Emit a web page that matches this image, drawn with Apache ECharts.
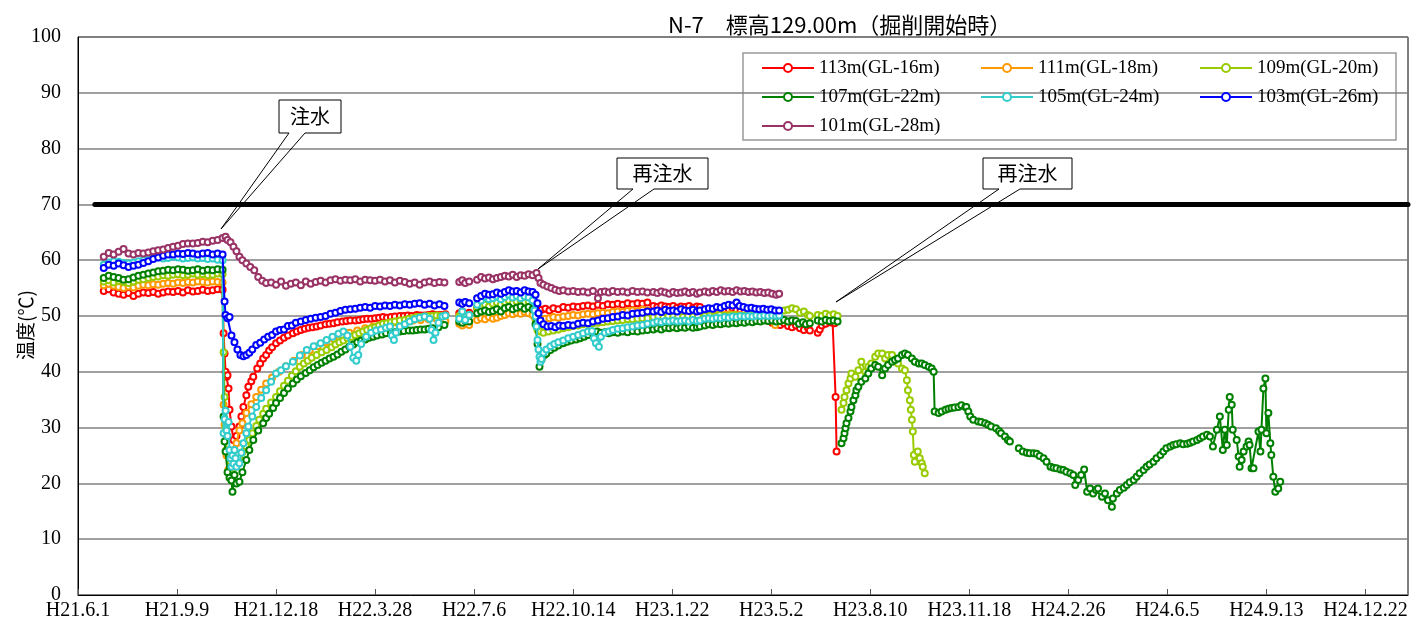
<!DOCTYPE html>
<html>
<head>
<meta charset="utf-8">
<script src="https://cdn.jsdelivr.net/npm/echarts@6.0.0/dist/echarts.min.js"></script>
<style>
  html, body { margin: 0; padding: 0; background: #fff; }
  #chart { width: 1412px; height: 634px; }
</style>
</head>
<body>
<div id="chart"></div>
<script>
// x = days since H21.6.1 (tick every 100 days)
const tickLabels = ['H21.6.1', 'H21.9.9', 'H21.12.18', 'H22.3.28', 'H22.7.6', 'H22.10.14', 'H23.1.22',
  'H23.5.2', 'H23.8.10', 'H23.11.18', 'H24.2.26', 'H24.6.5', 'H24.9.13', 'H24.12.22']
const names = ['113m(GL-16m)', '111m(GL-18m)', '109m(GL-20m)', '107m(GL-22m)', '105m(GL-24m)', '103m(GL-26m)', '101m(GL-28m)']
const colors = ['#ff0000', '#ff9900', '#99cc00', '#008000', '#33cccc', '#0000ff', '#993366']
const limitLine = [[17, 70], [1343, 70]]

const s113 = [[26,54.5],[31,54.8],[36,54.2],[41,54.0],[46,53.8],[51,54.1],[56,53.6],[61,54.0],[66,54.2],[71,54.1],[76,54.3],[81,54.0],[86,54.2],[91,54.4],[96,54.3],[101,54.5],[106,54.2],[111,54.6],[116,54.4],[121,54.5],[126,54.7],[131,54.5],[136,54.6],[141,54.8],[146,54.7],
  [147,46.9],[148,43.3],[149,40.0],[150,39.1],[151,39.4],[152,37.0],[153,33.2],[155,30.2],[157,27.8],[160,28.5],[163,30.2],[165,32.0],[167,33.7],[170,35.8],[172,37.3],[175,38.3],[177,39.1],[181,40.6],[184,41.5],[187,42.4],[190,43.0],[193,43.8],[196,44.4],[200,45.1],[204,45.6],[208,46.1],[212,46.5],[217,46.9],[221,47.2],[225,47.5],[229,47.7],[233,47.9],[237,48.0],[241,48.1],[245,48.3],[250,48.5],[254,48.6],[258,48.7],[262,48.9],[267,49.0],[271,49.1],[275,49.2],[280,49.2],[284,49.3],[288,49.4],[292,49.5],[296,49.5],[300,49.6],[304,49.7],[308,49.8],[312,49.7],[316,49.8],[320,49.9],[325,50.0],[329,50.0],[333,50.1],[337,50.0],[342,50.2],[346,50.1],[350,50.1],[354,50.2],[358,50.3],[362,50.2],[366,50.2],[371,50.3],
  [378,null],[385,50.5],[388,50.8],[391,50.3],[395,50.6],
  [399,null],[403,51.5],[407,51.7],[411,51.9],[415,51.6],[419,52.0],[423,52.2],[427,51.9],[431,52.4],[435,52.5],[439,52.2],[443,52.4],[447,52.6],[451,52.3],[455,52.5],[459,52.3],[462,51.5],[465,51.0],[468,51.1],[472,51.3],[476,51.0],[480,51.4],[485,51.2],[490,51.6],[495,51.5],[500,51.7],[505,51.6],[510,51.8],[515,51.9],[520,51.7],[525,52.0],[530,51.8],[535,52.1],[540,52.0],[545,52.2],[550,52.0],[555,52.3],[560,52.1],[565,52.3],[570,52.2],[575,52.4],
  [578,null],[581,51.8],[585,51.6],[589,51.9],[593,51.7],[597,51.6],[601,51.8],[605,51.5],[609,51.7],[613,51.6],[617,51.8],[621,51.5],[625,51.7],[628,51.6],
  [630,null],[633,51.0],[637,51.2],[641,50.9],[645,51.1],[649,51.3],[653,51.0],[657,51.2],[661,51.4],[665,51.1],[669,51.0],[673,50.8],[677,51.0],[681,50.7],[685,50.9],[689,50.6],[693,50.0],[697,49.2],[701,48.8],[705,48.6],[709,48.4],[713,48.7],[717,48.2],[721,48.0],[725,48.3],[729,47.8],[733,47.5],[737,47.9],[739,47.4],
  [743,null],[747,47.0],[749,47.6],[751,48.3],[755,48.6],[759,48.9],[762,48.8],[764,48.7],[765,35.5],[766,25.7]]

const s111 = [[26,55.5],[31,55.8],[36,55.4],[41,55.2],[46,55.0],[51,55.3],[56,55.1],[61,55.4],[66,55.6],[71,55.5],[76,55.7],[81,55.6],[86,55.8],[91,55.9],[96,55.8],[101,56.0],[106,55.9],[111,56.1],[116,56.0],[121,56.2],[126,56.1],[131,56.0],[136,56.2],[141,56.1],[146,56.0],
  [147,34.1],[148,30.5],[150,25.0],[152,22.5],[154,23.0],[156,24.5],[158,26.0],[160,27.2],[163,29.5],[166,30.8],[170,32.6],[175,34.2],[180,35.5],[185,36.8],[190,37.9],[196,39.0],[203,40.0],[210,41.0],[218,42.0],[226,43.0],[234,43.8],[242,44.6],[250,45.3],[258,45.9],[266,46.5],[274,47.0],[282,47.4],[290,47.8],[298,48.1],[306,48.4],[314,48.6],[322,48.8],[330,49.0],[338,49.2],[346,49.3],[354,49.4],[362,49.5],[368,49.3],[371,49.0],
  [378,null],[385,48.6],[388,48.3],[391,48.7],[395,48.4],
  [399,null],[403,49.3],[407,49.6],[411,49.4],[415,49.8],[419,49.5],[423,49.7],[427,50.0],[431,50.2],[435,50.5],[439,50.3],[443,50.6],[447,50.4],[451,50.7],[455,50.5],[459,50.2],[462,49.5],[465,49.0],[468,49.3],[472,49.5],[476,49.6],[480,49.8],[485,49.7],[490,49.9],[495,50.0],[500,50.2],[505,50.1],[510,50.3],[515,50.4],[520,50.3],[525,50.5],[530,50.6],[535,50.5],[540,50.7],[545,50.8],[550,50.7],[555,50.9],[560,51.0],[565,50.9],[570,51.1],[575,51.0],
  [578,null],[581,50.6],[586,50.4],[591,50.7],[596,50.5],[601,50.6],[606,50.4],[611,50.6],[616,50.5],[621,50.3],[626,50.5],
  [630,null],[633,50.2],[638,50.3],[643,50.1],[648,50.4],[653,50.2],[658,50.3],[663,50.1],[668,50.2],[673,50.0],[678,50.1],[683,49.9],[688,50.0],[693,49.6],[698,49.2],[704,48.4]]

const s109 = [[26,56.2],[31,56.4],[36,56.0],[41,56.3],[46,56.1],[51,55.9],[56,56.2],[61,56.5],[66,56.6],[71,56.8],[76,57.0],[81,57.1],[86,57.3],[91,57.2],[96,57.4],[101,57.5],[106,57.3],[111,57.4],[116,57.6],[121,57.4],[126,57.5],[131,57.3],[136,57.4],[141,57.6],[146,57.5],
  [147,43.5],[148,35.5],[149,30.0],[150,26.0],[152,22.0],[154,22.5],[156,21.8],[158,23.0],[160,23.8],[163,24.5],[166,25.6],[170,26.6],[173,27.8],[176,29.0],[180,30.3],[183,31.4],[187,32.5],[190,33.4],[195,34.5],[200,35.5],[204,36.5],[208,37.5],[212,38.4],[216,39.3],[220,40.1],[224,40.9],[228,41.5],[232,42.0],[236,42.5],[241,43.0],[246,43.5],[251,43.9],[256,44.4],[260,44.9],[264,45.3],[268,45.6],[272,46.0],[276,46.3],[280,46.6],[284,46.9],[288,47.2],[292,47.5],[296,47.8],[300,48.0],[304,48.3],[308,48.6],[312,48.7],[316,48.9],[320,49.0],[325,49.2],[330,49.3],[334,49.5],[338,49.6],[342,49.8],[346,49.8],[350,49.9],[354,50.0],[358,50.0],[362,50.1],[366,50.0],[371,50.1],
  [378,null],[385,50.0],[388,50.3],[391,49.9],[395,50.2],
  [399,null],[403,51.5],[407,51.8],[411,52.0],[415,51.7],[419,52.2],[423,52.4],[427,52.0],[431,52.5],[435,52.8],[439,52.3],[443,52.6],[447,52.8],[451,52.4],[455,52.6],[459,52.2],[462,49.5],[464,47.5],[467,47.2],[470,47.0],[475,47.2],[480,47.4],[485,47.6],[490,47.8],[495,48.0],[500,48.2],[505,48.3],[510,48.5],[515,48.6],[520,48.7],[525,48.8],[530,48.9],[535,49.0],[540,49.1],[545,49.2],[550,49.3],[555,49.4],[560,49.4],[565,49.5],[570,49.6],[575,49.6],
  [578,null],[581,49.8],[586,49.9],[591,49.7],[596,50.0],[601,49.9],[606,50.0],[611,49.8],[616,50.0],[621,49.9],[626,50.0],
  [630,null],[633,50.0],[638,50.1],[643,49.9],[648,50.2],[653,50.0],[658,50.1],[663,50.2],[668,50.0],[673,50.1],[678,50.3],[683,50.2],[688,50.4],[693,50.3],[698,50.5],[703,50.4],[709,50.8],[713,51.0],[717,51.1],[721,51.4],[725,51.2],[729,50.6],[733,50.8],[737,50.2],[739,50.0],
  [743,null],[747,50.2],[751,50.0],[755,50.4],[759,50.1],[763,50.3],[767,50.0],
  [769,null],[771,33.2],[773,34.4],[774,35.5],[776,36.7],[778,37.9],[780,38.8],[781,39.7],[785,39.1],[788,40.3],[791,41.8],[795,40.0],[798,40.9],[801,41.5],[805,42.7],[808,43.3],[812,43.3],[815,42.4],[818,43.0],[822,43.0],[825,42.1],[828,41.5],[832,40.6],[835,40.3],[837,38.5],[838,36.7],[840,34.9],[841,33.2],[842,31.4],[843,29.3],[844,25.1],[845,23.9],[848,25.7],[850,24.5],[852,23.6],[853,23.0],[855,21.8]]

const s107 = [[26,56.8],[31,57.2],[36,57.0],[41,56.8],[46,56.5],[51,56.6],[56,56.9],[61,57.2],[66,57.4],[71,57.6],[76,57.8],[81,58.0],[86,58.1],[91,58.3],[96,58.2],[101,58.4],[106,58.3],[111,58.1],[116,58.2],[121,58.4],[126,58.1],[131,58.3],[136,58.2],[141,58.4],[146,58.3],
  [147,32.0],[148,27.5],[149,25.7],[151,22.0],[153,21.0],[155,20.5],[156,18.5],[158,21.5],[160,20.0],[163,20.3],[166,22.0],[170,24.2],[173,26.0],[177,27.8],[182,29.5],[187,30.8],[190,31.7],[193,32.5],[197,33.5],[200,34.4],[204,35.3],[208,36.2],[212,37.0],[217,37.9],[221,38.6],[225,39.2],[230,39.8],[234,40.3],[238,40.8],[242,41.2],[246,41.6],[250,42.0],[254,42.4],[258,42.7],[262,43.1],[266,43.6],[270,44.0],[274,44.5],[278,44.9],[282,45.3],[286,45.6],[290,45.8],[294,46.1],[298,46.3],[302,46.5],[307,46.7],[311,46.9],[316,47.0],[320,47.1],[325,47.2],[329,47.3],[334,47.4],[338,47.4],[342,47.5],[346,47.6],[350,47.6],[354,47.7],[358,47.8],[364,48.0],[370,48.4],
  [378,null],[385,49.0],[388,48.8],[391,49.2],[395,49.0],
  [399,null],[403,50.5],[407,50.8],[411,51.0],[415,50.7],[419,50.9],[423,51.2],[427,50.8],[431,51.4],[435,51.6],[439,51.2],[443,51.5],[447,51.7],[451,51.3],[455,51.6],[459,51.2],[462,48.5],[464,45.0],[466,40.9],[468,42.2],[471,43.0],[473,43.3],[477,43.9],[481,44.3],[485,44.7],[490,45.1],[494,45.4],[498,45.6],[503,45.8],[507,46.0],[511,46.3],[515,46.6],[520,46.9],[524,47.2],[528,47.0],[532,47.1],[536,46.9],[540,47.1],[545,47.0],[550,47.2],[555,47.1],[560,47.3],[565,47.2],[570,47.4],[575,47.5],
  [578,null],[581,47.6],[585,47.8],[589,47.6],[593,47.9],[597,47.8],[601,48.0],[605,47.8],[609,48.0],[613,47.9],[617,48.1],[621,47.9],[625,48.0],[628,48.1],
  [630,null],[633,48.3],[637,48.5],[641,48.4],[645,48.6],[649,48.5],[653,48.7],[657,48.6],[661,48.8],[665,48.7],[669,48.9],[673,48.8],[677,49.0],[681,48.9],[685,49.1],[689,49.0],[693,49.2],[697,49.1],[701,49.2],[705,49.0],[709,49.1],[713,49.3],[717,49.0],[721,49.2],[725,49.1],[728,48.6],[732,48.9],[735,48.5],[739,48.7],
  [743,null],[747,49.2],[751,49.0],[755,49.3],[759,49.1],[763,49.2],[767,49.0],
  [769,null],[771,27.2],[773,28.1],[774,29.0],[775,29.9],[776,30.8],[778,31.7],[780,32.9],[781,33.7],[783,34.9],[785,35.8],[786,36.7],[788,37.3],[791,38.2],[795,38.8],[798,39.7],[801,40.6],[805,41.2],[808,40.9],[812,39.4],[815,40.6],[818,41.2],[822,41.8],[825,42.1],[828,42.4],[832,43.0],[835,43.3],[838,43.0],[842,42.4],[845,41.8],[849,41.5],[852,41.5],[855,41.2],[859,40.9],[862,40.6],[864,40.0],[865,32.9],[869,32.6],[872,32.9],[876,33.2],[879,33.4],[882,33.5],[885,33.6],[889,33.7],[892,34.0],[896,33.7],[897,33.7],[899,32.9],[901,32.0],[904,31.4],[909,31.1],[912,31.0],[916,30.8],[919,30.5],[922,30.2],[927,29.9],[930,29.4],[932,29.0],[936,28.4],[939,27.8],[941,27.5],
  [945,null],[950,26.3],[954,25.7],[958,25.5],[961,25.4],[965,25.4],[968,25.3],[971,24.9],[975,24.5],[978,23.9],[982,23.0],[985,22.8],[988,22.7],[992,22.5],[995,22.4],[998,22.1],[1002,21.8],[1005,21.5],[1007,19.7],[1010,20.6],[1013,21.5],[1016,22.5],[1019,18.5],[1022,19.1],[1025,18.2],[1028,18.8],[1030,19.1],[1034,17.6],[1037,18.2],[1040,17.0],[1044,15.8],[1045,17.3],[1049,18.2],[1052,18.8],[1056,19.2],[1059,19.7],[1062,20.2],[1066,20.6],[1069,21.2],[1072,21.8],[1076,22.4],[1079,23.0],[1082,23.4],[1086,23.9],[1089,24.5],[1093,25.1],[1096,25.7],[1099,26.3],[1103,26.6],[1106,26.9],[1109,27.0],[1113,27.2],[1116,27.0],[1120,27.1],[1123,27.3],[1126,27.5],[1130,27.8],[1133,28.1],[1136,28.4],[1140,28.7],[1143,28.4],[1146,26.6],[1150,29.6],[1153,32.0],[1156,26.0],[1158,29.6],[1160,26.9],[1162,33.2],[1163,35.5],[1165,34.1],[1166,29.6],[1170,27.8],[1172,24.8],[1173,23.0],[1175,24.2],[1177,25.7],[1180,26.6],[1182,27.5],[1183,26.9],[1185,22.7],[1187,22.7],[1192,29.3],[1194,25.7],[1195,29.6],[1197,37.0],[1199,38.8],[1200,29.0],[1202,32.6],[1204,27.2],[1205,25.1],[1207,21.2],[1209,18.5],[1212,19.1],[1214,20.3]]

const s105 = [[26,59.2],[31,59.6],[36,59.8],[41,59.7],[46,59.5],[51,59.4],[56,59.6],[61,59.8],[66,60.0],[71,60.2],[76,60.4],[81,60.5],[86,60.3],[91,60.4],[96,60.6],[101,60.5],[106,60.3],[111,60.4],[116,60.5],[121,60.3],[126,60.4],[131,60.2],[136,60.3],[141,60.1],[146,60.0],
  [147,29.0],[148,31.5],[149,33.0],[150,29.5],[151,28.5],[152,31.0],[153,26.0],[154,24.5],[155,23.0],[156,25.0],[157,23.5],[158,26.0],[159,24.5],[160,23.0],[163,23.6],[165,25.5],[167,27.2],[170,29.0],[172,30.2],[176,32.0],[180,33.7],[185,35.3],[190,36.7],[195,38.2],[200,39.7],[205,40.3],[210,41.0],[217,41.8],[224,42.9],[231,43.9],[238,44.6],[245,45.1],[251,45.7],[257,46.3],[263,46.8],[268,47.2],[272,46.5],[275,44.5],[278,42.5],[281,42.0],[283,43.0],[286,45.0],[291,46.3],[296,47.0],[301,47.4],[306,47.6],[311,47.9],[315,48.1],[317,46.5],[319,45.7],[321,47.0],[325,48.1],[330,48.5],[335,49.0],[340,49.4],[345,49.7],[350,49.9],[355,49.5],[357,47.5],[359,45.7],[361,47.0],[364,48.8],[368,49.9],[371,50.1],
  [378,null],[385,49.5],[388,50.8],[391,49.3],[395,50.2],
  [399,null],[403,52.0],[407,52.8],[411,53.4],[415,53.0],[419,53.2],[423,53.5],[427,53.0],[431,53.4],[435,53.8],[439,53.3],[443,53.6],[447,53.2],[451,53.5],[455,53.3],[459,52.8],[461,51.0],[462,49.9],[463,48.1],[464,45.7],[465,44.0],[466,42.7],[467,41.8],[468,42.3],[470,43.4],[473,44.0],[477,44.6],[481,45.0],[485,45.3],[490,45.6],[495,46.0],[500,46.3],[505,46.6],[510,46.9],[515,47.2],[519,47.3],[521,46.0],[523,45.1],[526,44.5],[528,46.3],[532,47.0],[536,47.2],[540,47.5],[545,47.7],[550,47.8],[555,48.0],[560,48.1],[565,48.3],[570,48.4],[575,48.6],
  [578,null],[581,48.8],[585,49.0],[589,48.9],[593,49.1],[597,49.0],[601,49.2],[605,49.0],[609,49.1],[613,49.2],[617,49.0],[621,49.3],[625,49.1],[628,49.2],
  [630,null],[633,49.5],[637,49.6],[641,49.5],[645,49.7],[649,49.6],[653,49.8],[657,49.7],[661,49.9],[665,49.8],[669,50.0],[673,49.9],[677,50.0],[681,49.9],[685,50.1],[689,50.0],[693,50.1],[697,50.0],[701,50.1],[705,50.0],[708,50.1]]

const s103 = [[26,58.6],[31,59.2],[36,59.0],[41,59.4],[46,59.1],[51,58.8],[56,59.0],[61,59.2],[66,59.5],[71,59.8],[76,60.2],[81,60.5],[86,60.8],[91,61.0],[96,61.0],[101,61.2],[106,61.1],[111,61.3],[116,61.2],[121,61.0],[126,61.2],[131,61.3],[136,61.0],[141,61.2],[146,61.0],
  [148,52.6],[149,50.2],[151,49.6],[153,49.8],[155,46.5],[158,45.3],[161,44.0],[164,43.0],[167,42.8],[170,43.0],[173,43.4],[176,44.0],[180,44.8],[184,45.2],[188,45.8],[192,46.3],[196,46.6],[200,47.2],[204,47.5],[208,47.6],[212,48.2],[216,48.3],[220,48.8],[225,49.0],[230,49.3],[235,49.5],[240,49.7],[245,49.8],[250,50.0],[255,50.4],[260,50.6],[265,50.9],[270,51.1],[275,51.2],[280,51.3],[285,51.5],[290,51.6],[295,51.5],[300,51.8],[305,51.7],[310,51.9],[315,51.8],[320,52.0],[325,51.9],[330,52.1],[335,52.0],[340,52.2],[345,52.3],[350,52.0],[355,52.2],[360,51.9],[365,52.1],[370,51.8],
  [378,null],[385,52.4],[388,52.2],[391,52.5],[395,52.3],
  [399,null],[403,53.2],[407,53.6],[411,54.0],[415,53.8],[419,53.9],[423,54.2],[427,54.0],[431,54.3],[435,54.6],[439,54.4],[443,54.5],[447,54.2],[451,54.6],[455,54.4],[459,54.3],[462,53.8],[464,52.3],[465,50.5],[467,49.2],[470,48.5],[474,48.1],[478,48.2],[482,48.0],[486,48.3],[490,48.2],[495,48.4],[500,48.3],[505,48.6],[510,48.8],[515,48.7],[520,49.0],[525,49.2],[530,49.5],[535,49.6],[540,49.8],[545,49.9],[550,50.2],[555,50.1],[560,50.4],[565,50.5],[570,50.6],[575,50.8],
  [578,null],[581,50.8],[585,51.0],[589,50.7],[593,51.1],[597,50.9],[601,51.0],[605,50.8],[609,51.2],[613,51.0],[617,50.9],[621,51.1],[625,50.8],[628,51.0],
  [630,null],[633,51.2],[637,51.4],[641,51.3],[645,51.6],[649,51.5],[653,51.8],[657,52.0],[661,51.9],[665,52.4],[668,51.8],[672,51.6],[676,51.4],[680,51.5],[684,51.3],[688,51.2],[692,51.3],[696,51.1],[700,51.2],[704,51.0],[708,51.0]]

const s101 = [[26,60.6],[31,61.3],[36,61.0],[41,61.5],[46,62.0],[51,61.2],[56,61.0],[61,61.3],[66,61.2],[71,61.4],[76,61.6],[81,61.8],[86,61.9],[91,62.2],[96,62.4],[101,62.6],[106,62.9],[111,63.0],[116,63.0],[121,63.1],[126,63.3],[131,63.2],[136,63.5],[141,63.6],[146,64.0],
  [149,64.2],[151,63.6],[154,63.2],[157,62.4],[160,61.6],[163,60.6],[166,60.0],[170,59.4],[174,58.8],[178,58.2],[182,57.0],[186,56.3],[190,55.9],[195,56.0],[200,55.6],[205,56.2],[210,55.4],[215,55.8],[220,56.0],[225,55.5],[230,56.2],[235,55.8],[240,56.1],[245,56.3],[250,56.0],[255,56.4],[260,56.6],[265,56.3],[270,56.5],[275,56.4],[280,56.6],[285,56.2],[290,56.5],[295,56.4],[300,56.3],[305,56.5],[310,56.2],[315,56.4],[320,56.0],[325,56.3],[330,56.1],[335,55.8],[340,56.0],[345,55.6],[350,56.0],[355,56.2],[360,55.9],[365,56.1],[370,56.0],
  [378,null],[385,56.1],[388,56.4],[391,55.9],[395,56.2],
  [399,null],[403,56.5],[407,57.0],[411,56.7],[415,56.9],[419,56.6],[423,56.8],[427,57.0],[431,57.2],[435,57.1],[439,57.4],[443,57.0],[447,57.3],[451,57.2],[455,57.5],[459,57.3],[463,57.7],[465,56.8],[467,55.9],[470,55.6],[474,55.3],[478,55.0],[482,54.7],[486,54.5],[490,54.6],[495,54.4],[500,54.5],[505,54.3],[510,54.4],[515,54.2],[520,54.5],[525,53.2],[528,54.3],[532,54.4],[536,54.2],[540,54.5],[545,54.3],[550,54.4],[555,54.2],[560,54.5],[565,54.3],[570,54.4],[575,54.2],
  [578,null],[581,54.3],[585,54.1],[589,54.4],[593,54.2],[597,54.0],[601,54.3],[605,54.1],[609,54.2],[613,54.4],[617,54.1],[621,54.3],[625,54.0],[628,54.2],
  [630,null],[633,54.4],[637,54.2],[641,54.5],[645,54.3],[649,54.6],[653,54.4],[657,54.5],[661,54.3],[665,54.6],[669,54.4],[673,54.5],[677,54.3],[681,54.4],[685,54.2],[689,54.3],[693,54.1],[697,54.2],[701,54.0],[705,53.8],[708,54.0]]

const seriesData = [s113, s111, s109, s107, s105, s103, s101]

const chart = echarts.init(document.getElementById('chart'))
const serif = 'Liberation Serif'
const jp = 'Noto Sans CJK JP'

const series = seriesData.map((d, i) => ({
  name: names[i],
  type: 'line',
  data: d,
  symbol: 'emptyCircle',
  symbolSize: 6,
  showAllSymbol: true,
  connectNulls: false,
  lineStyle: { width: 2, color: colors[i] },
  itemStyle: { color: colors[i], borderColor: colors[i], borderWidth: 2 },
  z: 3 + i
}))
series.push({
  name: 'limit',
  type: 'line',
  data: limitLine,
  symbol: 'none',
  lineStyle: { width: 5, color: '#000', cap: 'round' },
  z: 2
})

// callout boxes: outline path with the pointer wedge
function callout(x1, y1, x2, y2, legA, legB, tip, label) {
  return [
    { type: 'rect', shape: { x: x1, y: y1, width: x2 - x1, height: y2 - y1 }, style: { fill: '#fff' }, z: 100 },
    { type: 'polyline', shape: { points: [[legB, y2], [x2, y2], [x2, y1], [x1, y1], [x1, y2], [legA, y2], tip, [legB, y2]] },
      style: { stroke: '#000', lineWidth: 1, fill: null }, z: 101 },
    { type: 'text', x: (x1 + x2) / 2, y: (y1 + y2) / 2, style: { text: label, font: '20px "Noto Sans CJK JP"', fill: '#000', align: 'center', verticalAlign: 'middle' }, z: 102 }
  ]
}

chart.setOption({
  animation: false,
  title: {
    text: 'N-7　標高129.00m（掘削開始時）',
    left: 663, top: 9,
    textStyle: { fontFamily: jp, fontSize: 22, fontWeight: 'normal', color: '#000' }
  },
  grid: { left: 78, right: 4, top: 37, bottom: 39, show: true, borderColor: '#000', borderWidth: 1,
    containLabel: false, outerBoundsMode: 'none' },
  legend: {
    data: names,
    left: 761, top: 53.5, padding: 0,
    itemWidth: 52, itemHeight: 10, itemGap: 0,
    width: 660,
    selectedMode: false,
    textStyle: { fontFamily: serif, fontSize: 19, color: '#000', width: 161, lineHeight: 29 }
  },
  xAxis: {
    type: 'value', min: 0, max: 1343, interval: 100,
    axisLine: { lineStyle: { color: '#000', width: 1 } },
    axisTick: { inside: true, length: 6, lineStyle: { color: '#555' } },
    splitLine: { show: false },
    axisLabel: {
      fontFamily: serif, fontSize: 20, color: '#000', margin: 6,
      showMaxLabel: false,
      formatter: v => (v % 100 === 0 ? tickLabels[v / 100] || '' : '')
    }
  },
  yAxis: {
    type: 'value', min: 0, max: 100, interval: 10,
    name: '温度(℃)', nameLocation: 'middle', nameGap: 43, nameRotate: 90, nameMoveOverlap: false,
    nameTextStyle: { fontFamily: jp, fontSize: 19, color: '#000', padding: [0, 18, 0, 0] },
    axisLine: { show: true, lineStyle: { color: '#000', width: 1 } },
    axisTick: { show: false },
    splitLine: { lineStyle: { color: '#808080', width: 1.5 } },
    axisLabel: { fontFamily: serif, fontSize: 20, color: '#000', margin: 17 }
  },
  graphic: [
    { type: 'rect', shape: { x: 743, y: 53, width: 653, height: 87 }, style: { fill: '#fff', stroke: '#999', lineWidth: 1.5 }, z: 0, zlevel: 0 },
    ...callout(279, 100, 341, 133, 289, 305, [221, 229], '注水'),
    ...callout(617, 158, 708, 189, 633, 654, [538, 269], '再注水'),
    ...callout(983, 158, 1072, 189, 999, 1020, [836, 302], '再注水')
  ],
  series
})
</script>
</body>
</html>
